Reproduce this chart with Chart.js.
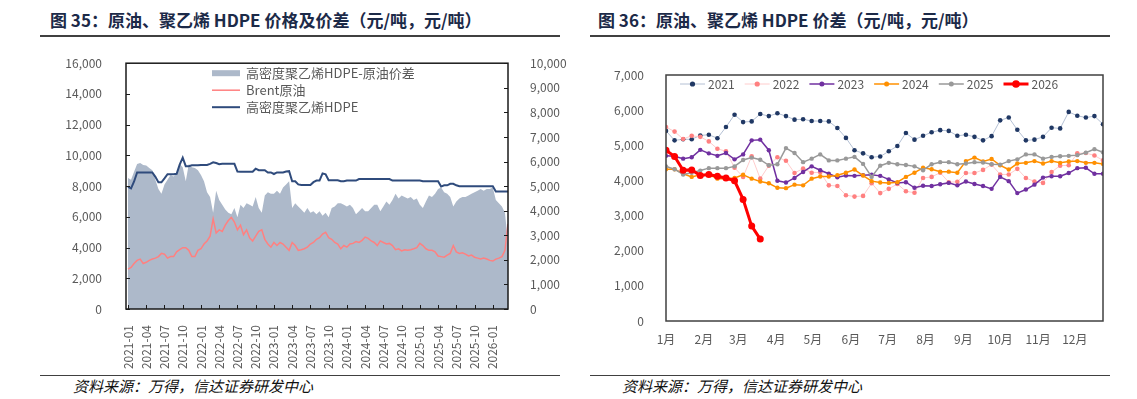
<!DOCTYPE html>
<html>
<head>
<meta charset="utf-8">
<script src="https://cdn.jsdelivr.net/npm/chart.js"></script>
<style>
  body { margin: 0; background: #fff; width: 1137px; height: 399px; overflow: hidden; position: relative;
         font-family: "Noto Sans CJK SC", "Microsoft YaHei", sans-serif; }
  .title { position: absolute; top: 10px; font-size: 17px; font-weight: bold; color: #1c2a48; line-height: 20px; white-space: nowrap; }
  .rule { position: absolute; background: #404040; }
  .src { position: absolute; top: 376px; font-size: 15px; font-style: italic; color: #111; line-height: 20px; white-space: nowrap; }
  canvas { position: absolute; }
</style>
</head>
<body>
<div class="title" style="left:50px">图 35：原油、聚乙烯 HDPE 价格及价差（元/吨，元/吨）</div>
<div class="title" style="left:598px">图 36：原油、聚乙烯 HDPE 价差（元/吨，元/吨）</div>
<div class="rule" style="left:40px;top:35px;width:520px;height:2px"></div>
<div class="rule" style="left:590px;top:35px;width:520px;height:2px"></div>
<canvas id="left" width="540" height="330" style="left:40px;top:40px"></canvas>
<canvas id="right" width="530" height="330" style="left:590px;top:40px"></canvas>
<div class="rule" style="left:40px;top:375px;width:520px;height:1px"></div>
<div class="rule" style="left:590px;top:375px;width:520px;height:1px"></div>
<div class="src" style="left:73px">资料来源：万得，信达证券研发中心</div>
<div class="src" style="left:622px">资料来源：万得，信达证券研发中心</div>
<script>
// ---- 图35: semi-monthly values, 2021-01 .. 2026-03 ----
var quarterLabels = ['2021-01','2021-04','2021-07','2021-10','2022-01','2022-04','2022-07','2022-10',
  '2023-01','2023-04','2023-07','2023-10','2024-01','2024-04','2024-07','2024-10',
  '2025-01','2025-04','2025-07','2025-10','2026-01'];

// 高密度聚乙烯HDPE-原油价差 (right axis)
var spread = [5325,5260,5580,5900,5940,5860,5835,5735,5645,5260,4880,4690,5070,5260,5450,5390,5520,5900,5770,5200,
  5900,5770,5735,5645,5450,5200,4750,4560,3920,4810,4430,4240,4050,3920,3855,4110,3730,4240,4110,4300,
  4240,4175,4560,4110,3920,4620,4750,4690,4690,4810,4690,4940,5070,5200,4110,4300,4175,4050,3920,4110,
  3920,3980,3855,3980,3790,3920,3730,4110,4175,4300,4300,4240,4175,4240,4110,3855,3980,4110,3980,3980,
  4110,4240,4240,3980,4175,4370,4240,4430,4690,4500,4620,4560,4500,4560,4430,4500,4240,4110,4370,4620,
  4560,4690,4880,4940,4750,4690,4560,4175,4370,4500,4560,4560,4620,4690,4750,4810,4880,4810,4880,4880,
  4940,4430,4300,4175,3920,2700];

// Brent原油 (left axis)
var brent = [2595,2700,2960,3165,3250,2960,3040,3165,3250,3310,3410,3620,3570,3310,3410,3410,3720,3860,3990,3990,
  3820,3410,3410,3820,3920,4230,4430,4740,5860,4945,5150,5050,5455,5760,5965,5660,5150,5455,4840,5150,
  4640,4430,4740,5050,5150,4536,4230,4025,4330,4130,4330,4230,4025,3820,4330,4130,3820,3860,3920,4025,
  4230,4330,4536,4640,4880,5000,4640,4536,4330,4230,3920,4130,4025,4230,4270,4390,4330,4470,4680,4600,
  4430,4330,4130,4430,4330,4230,4270,4130,3860,3920,3780,3860,3820,3860,3920,3990,4270,4130,3920,3820,
  3820,3720,3450,3410,3370,3510,3620,4130,3720,3620,3660,3570,3450,3510,3370,3310,3250,3310,3250,3165,
  3120,3250,3310,3410,3820,5550];

// 高密度聚乙烯HDPE (left axis)
var hdpe = [7950,7850,8300,8890,8890,8890,8890,8890,8890,8600,8250,8250,8500,8770,8770,8770,8800,9400,9850,9300,
  9300,9350,9350,9350,9380,9380,9380,9450,9550,9500,9420,9450,9450,9450,9450,9450,8950,8930,8930,8930,
  8930,8930,9133,9031,9031,9031,8889,8889,8787,8889,8889,8889,8950,8970,8316,8316,8112,8071,8071,8071,
  8071,8255,8357,8357,8828,8767,8378,8378,8378,8378,8316,8316,8357,8357,8357,8357,8460,8460,8460,8460,
  8460,8460,8460,8460,8460,8460,8460,8357,8357,8357,8357,8357,8357,8357,8357,8357,8357,8316,8316,8316,
  8316,8316,8316,7969,8051,8051,8153,8153,8051,7990,7990,7990,7990,7990,7990,7990,7990,7990,7990,7990,
  7990,7642,7642,7642,7642,7642];

// ---- 图36: weekly spread by year ----
var monthLabels = ['1月','2月','3月','4月','5月','6月','7月','8月','9月','10月','11月','12月'];
var monthStartDay = [0,31,59,90,120,151,181,212,243,273,304,334];

var s2021 = [5410,5140,5170,5170,5280,5300,5200,5520,5870,5660,5680,5890,5830,5910,5830,5730,5740,5690,5690,5680,
  5490,5210,4860,4770,4660,4680,4830,4980,5350,5160,5270,5370,5430,5410,5270,5300,5240,5140,5260,5710,
  5790,5440,5140,5160,5240,5500,5480,5950,5840,5790,5830,5600];
var s2022 = [5520,5390,5180,5270,5240,5110,4900,4830,4360,4100,4690,4050,4420,4660,4560,4210,4340,4220,4230,3860,
  3840,3580,3540,3560,3920,3640,3760,3900,3690,3650,4070,4100,4220,3950,3960,4210,4210,4300,4450,4170,
  4170,4330,4070,3970,3930,4240,4420,4430,4770,4780,4710,4570];
var s2023 = [4700,4690,4620,4660,4870,4770,4700,4780,4600,4740,5140,5160,4860,3990,3940,4070,4240,4400,4290,4190,
  4090,4140,4130,4150,4160,4130,4030,3930,3950,3790,3850,3840,3890,3930,3860,3970,3900,3840,3760,4100,
  3980,3640,3740,3880,4080,4120,4120,4210,4350,4360,4190,4190];
var s2024 = [4320,4320,4190,4100,4160,4170,4050,4050,4070,4160,4050,3970,3920,3790,3780,3880,3860,4050,4110,4110,
  4150,4220,4310,4140,3980,3940,3930,3950,4100,4220,4360,4320,4250,4250,4220,4550,4650,4540,4610,4430,
  4310,4480,4500,4550,4480,4550,4500,4540,4550,4500,4500,4470];
var s2025 = [4400,4320,4170,4220,4280,4350,4350,4350,4400,4580,4650,4590,4430,4460,4920,4780,4520,4620,4740,4570,
  4570,4620,4670,4470,4100,4420,4500,4460,4440,4400,4290,4460,4520,4520,4460,4480,4520,4510,4460,4450,
  4550,4600,4740,4740,4620,4670,4690,4700,4720,4790,4890,4800];
var s2026 = [4860,4680,4290,4300,4140,4170,4120,4070,3990,3460,2700,2330];

Chart.defaults.font.family = '"Noto Sans CJK SC", "Microsoft YaHei", sans-serif';
Chart.defaults.font.size = 12;
Chart.defaults.color = '#595959';

// frame round the plot area, plus short inward tick marks
var framePlugin = {
  id: 'frame',
  afterDatasetsDraw: function(chart, args, o) {
    var ctx = chart.ctx, a = chart.chartArea;
    ctx.save();
    ctx.strokeStyle = o.color;
    ctx.lineWidth = o.width;
    ctx.strokeRect(a.left, a.top, a.right - a.left, a.bottom - a.top);
    (o.tickScales || []).forEach(function(id) {
      var s = chart.scales[id];
      ctx.lineWidth = 1;
      s.ticks.forEach(function(t, i) {
        var p = Math.round(s.getPixelForTick(i)) + 0.5;
        ctx.beginPath();
        if (s.axis === 'x') { ctx.moveTo(p, a.bottom); ctx.lineTo(p, a.bottom - 4); }
        else if (s.position === 'left') { ctx.moveTo(a.left, p); ctx.lineTo(a.left + 4, p); }
        else { ctx.moveTo(a.right, p); ctx.lineTo(a.right - 4, p); }
        ctx.stroke();
      });
    });
    ctx.restore();
  }
};

// legend drawn inside the plot area
var innerLegend = {
  id: 'innerLegend',
  afterDraw: function(chart, args, o) {
    var ctx = chart.ctx, a = chart.chartArea;
    ctx.save();
    ctx.font = o.fontStr;
    ctx.textBaseline = 'middle';
    chart.data.datasets.forEach(function(ds, i) {
      var x = a.left + o.x + (o.horizontal ? i * o.step : 0);
      var y = a.top + o.y + (o.horizontal ? 0 : i * o.step);
      if (ds.fill) {
        ctx.fillStyle = ds.backgroundColor;
        ctx.fillRect(x, y - 3, o.len, 6);
      } else {
        ctx.strokeStyle = ds.borderColor;
        ctx.lineWidth = ds.borderWidth;
        ctx.beginPath(); ctx.moveTo(x, y); ctx.lineTo(x + o.len, y); ctx.stroke();
        if (ds.pointRadius) {
          ctx.fillStyle = ds.pointBackgroundColor;
          ctx.beginPath(); ctx.arc(x + o.len / 2, y, ds.pointRadius + 0.3, 0, Math.PI * 2); ctx.fill();
        }
      }
      ctx.fillStyle = o.textColor;
      ctx.fillText(ds.label, x + o.len + o.gap, y);
    });
    ctx.restore();
  }
};

function halfMonthPts(arr) { return arr.map(function(v, i) { return {x: i / 2, y: v}; }); }
function weekPts(arr) { return arr.map(function(v, i) { return {x: i, y: v}; }); }

new Chart(document.getElementById('left'), {
  type: 'line',
  data: {
    datasets: [
      { label: '高密度聚乙烯HDPE-原油价差', data: halfMonthPts(spread), yAxisID: 'y1', fill: 'origin',
        backgroundColor: '#adb9ca', borderColor: '#adb9ca', borderWidth: 0, pointRadius: 0, order: 3 },
      { label: 'Brent原油', data: halfMonthPts(brent), yAxisID: 'y', fill: false,
        borderColor: '#ff8080', borderWidth: 1.5, pointRadius: 0, order: 2 },
      { label: '高密度聚乙烯HDPE', data: halfMonthPts(hdpe), yAxisID: 'y', fill: false,
        borderColor: '#2f4b7c', borderWidth: 2, pointRadius: 0, order: 1 }
    ]
  },
  options: {
    responsive: false,
    animation: false,
    events: [],
    layout: { padding: { top: 8, left: 0, right: 0, bottom: 0 } },
    elements: { line: { tension: 0 } },
    plugins: {
      legend: { display: false },
      tooltip: { enabled: false },
      frame: { color: '#1a1a1a', width: 1.5, tickScales: ['x', 'y', 'y1'] },
      innerLegend: { x: 86, y: 10, step: 17, len: 28, gap: 6, horizontal: false,
                     fontStr: '13px "Noto Sans CJK SC", sans-serif', textColor: '#595959' }
    },
    scales: {
      x: {
        type: 'linear', min: -0.33, max: 62.5,
        grid: { display: false }, border: { display: false },
        afterBuildTicks: function(s) { s.ticks = quarterLabels.map(function(l, i) { return {value: i * 3}; }); },
        afterFit: function(s) { s.height = 61; },
        ticks: { autoSkip: false, maxRotation: 90, minRotation: 90, padding: 8,
                 callback: function(v, i) { return quarterLabels[i]; } }
      },
      y: {
        position: 'left', min: 0, max: 16000,
        grid: { display: false }, border: { display: false },
        afterFit: function(s) { s.width = 86; },
        ticks: { stepSize: 2000, padding: 16, callback: function(v) { return v.toLocaleString('en-US'); } }
      },
      y1: {
        position: 'right', min: 0, max: 10000,
        grid: { display: false }, border: { display: false },
        afterFit: function(s) { s.width = 72; },
        ticks: { stepSize: 1000, padding: 14, callback: function(v) { return v.toLocaleString('en-US'); } }
      }
    }
  },
  plugins: [framePlugin, innerLegend]
});

function yearSet(label, arr, line, marker, width, radius, order) {
  return { label: label, data: weekPts(arr), borderColor: line, borderWidth: width,
           pointBackgroundColor: marker, pointBorderColor: marker, pointBorderWidth: 0,
           pointRadius: radius, fill: false, order: order };
}

new Chart(document.getElementById('right'), {
  type: 'line',
  data: {
    datasets: [
      yearSet('2021', s2021, '#b4c0d4', '#203864', 1, 2.3, 6),
      yearSet('2022', s2022, '#ffcccc', '#ff8080', 1, 2.3, 5),
      yearSet('2023', s2023, '#7030a0', '#7030a0', 1.5, 2.2, 4),
      yearSet('2024', s2024, '#ff9000', '#ff9000', 1.5, 2.2, 3),
      yearSet('2025', s2025, '#999999', '#999999', 1.5, 2.2, 2),
      yearSet('2026', s2026, '#ff0000', '#ff0000', 3, 3.5, 1)
    ]
  },
  options: {
    responsive: false,
    animation: false,
    events: [],
    layout: { padding: { top: 35, left: 0, right: 17, bottom: 0 } },
    elements: { line: { tension: 0 } },
    plugins: {
      legend: { display: false },
      tooltip: { enabled: false },
      frame: { color: '#404040', width: 1.5, tickScales: [] },
      innerLegend: { x: 14, y: 9, step: 64.7, len: 25, gap: 3, horizontal: true,
                     fontStr: '12px "Noto Sans CJK SC", sans-serif', textColor: '#595959' }
    },
    scales: {
      x: {
        type: 'linear', min: 0, max: 51,
        grid: { display: false }, border: { display: false },
        afterBuildTicks: function(s) { s.ticks = monthStartDay.map(function(d) { return {value: d / 7}; }); },
        afterFit: function(s) { s.height = 49; },
        ticks: { autoSkip: false, maxRotation: 0, padding: 3,
                 callback: function(v, i) { return monthLabels[i]; } }
      },
      y: {
        min: 0, max: 7000,
        grid: { display: false }, border: { display: false },
        afterFit: function(s) { s.width = 76; },
        ticks: { stepSize: 1000, padding: 14, callback: function(v) { return v.toLocaleString('en-US'); } }
      }
    }
  },
  plugins: [framePlugin, innerLegend]
});
</script>
</body>
</html>
